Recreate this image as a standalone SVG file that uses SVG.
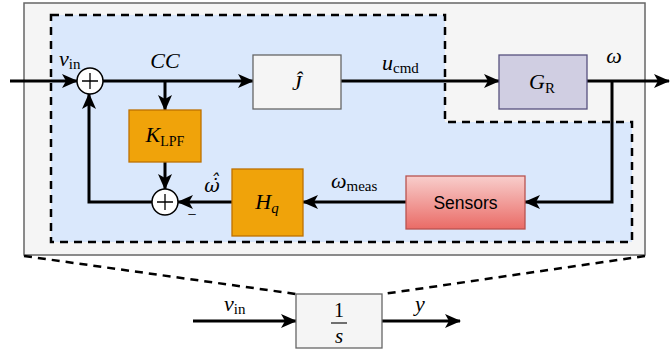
<svg xmlns="http://www.w3.org/2000/svg" width="670" height="354" viewBox="0 0 670 354">
<defs>
<marker id="arr" markerUnits="userSpaceOnUse" viewBox="0 0 16 14" refX="15" refY="7" markerWidth="16" markerHeight="14" orient="auto">
<path d="M0,0 L16,7 L0,14 L4,7 Z" fill="#000"/>
</marker>
<linearGradient id="sensGrad" x1="0" y1="0" x2="0" y2="1">
<stop offset="0" stop-color="#f8cecc"/>
<stop offset="1" stop-color="#ea6b66"/>
</linearGradient>
</defs>
<style>
.conn{fill:none;stroke:#000;stroke-width:3;}
.m{font-family:"Liberation Serif","DejaVu Serif",serif;font-style:italic;fill:#000;}
.r{font-family:"Liberation Serif","DejaVu Serif",serif;font-style:normal;fill:#000;}
.dash{fill:none;stroke:#000;stroke-width:2.5;stroke-dasharray:8 6;}
.sum{fill:#fff;stroke:#000;stroke-width:1.5;}
</style>
<g id="background">
<rect x="24" y="3" width="621" height="252" fill="#f5f5f5" stroke="#666" stroke-width="1.5"/>
<path d="M51,15 L445,15 L445,122 L632,122 L632,242 L51,242 Z" fill="#dae8fc" stroke="none"/>
<path class="dash" d="M51,15 L445,15 L445,122 L632,122 L632,242 L51,242 Z"/>
<path class="dash" d="M24,256 L296,294 M645,256 L383,294"/>
</g>
<g id="connectors">
<path class="conn" d="M10,81 L77,81" marker-end="url(#arr)"/>
<path class="conn" d="M103,81 L253,81" marker-end="url(#arr)"/>
<path class="conn" d="M165,81 L165,110" marker-end="url(#arr)"/>
<path class="conn" d="M341,81 L499,81" marker-end="url(#arr)"/>
<path class="conn" d="M587,81 L669,81" marker-end="url(#arr)"/>
<path class="conn" d="M612,81 L612,202 L525,202" marker-end="url(#arr)"/>
<path class="conn" d="M406,202 L303,202" marker-end="url(#arr)"/>
<path class="conn" d="M232,202 L178,202" marker-end="url(#arr)"/>
<path class="conn" d="M165,162 L165,189" marker-end="url(#arr)"/>
<path class="conn" d="M152,202 L89,202 L89,94" marker-end="url(#arr)"/>
<path class="conn" d="M193,321 L296,321" marker-end="url(#arr)"/>
<path class="conn" d="M382,321 L460,321" marker-end="url(#arr)"/>
</g>
<g id="sum1">
<circle class="sum" cx="90" cy="81" r="13"/>
<path d="M82,81 L98,81 M90,73 L90,89" stroke="#000" stroke-width="1.3"/>
</g>
<g id="sum2">
<circle class="sum" cx="165" cy="202" r="13"/>
<path d="M157,202 L173,202 M165,194 L165,210" stroke="#000" stroke-width="1.3"/>
<text class="r" x="192" y="220" font-size="16" text-anchor="middle">−</text>
</g>
<g id="J">
<rect x="253" y="55" width="88" height="54" fill="#f5f5f5" stroke="#666" stroke-width="1.3"/>
<text class="m" x="297" y="90" font-size="22" text-anchor="middle">Ĵ</text>
</g>
<g id="GR">
<rect x="499" y="55" width="88" height="54" fill="#d0cee2" stroke="#56517e" stroke-width="1.3"/>
<text x="542" y="89" text-anchor="middle"><tspan class="m" font-size="22">G</tspan><tspan class="r" font-size="15" dy="4">R</tspan></text>
</g>
<g id="KLPF">
<rect x="129" y="110" width="72" height="52" fill="#f0a30a" stroke="#bd7000" stroke-width="1.3"/>
<text x="165" y="142" text-anchor="middle"><tspan class="m" font-size="22">K</tspan><tspan class="r" font-size="14" dy="4">LPF</tspan></text>
</g>
<g id="Hq">
<rect x="232" y="169" width="71" height="67" fill="#f0a30a" stroke="#bd7000" stroke-width="1.3"/>
<text x="267" y="209" text-anchor="middle"><tspan class="m" font-size="22">H</tspan><tspan class="m" font-size="15" dy="4">q</tspan></text>
</g>
<g id="Sensors">
<rect x="406" y="176" width="119" height="53" fill="url(#sensGrad)" stroke="#b85450" stroke-width="1.3"/>
<text x="465.5" y="209" font-family="'Liberation Sans',Arial,sans-serif" font-size="17.5" text-anchor="middle" fill="#000">Sensors</text>
</g>
<g id="integrator">
<rect x="296" y="294" width="86" height="54" fill="#f5f5f5" stroke="#666" stroke-width="1.3"/>
<text class="r" x="339" y="317" font-size="20" text-anchor="middle">1</text>
<path d="M331,323 L347,323" stroke="#000" stroke-width="1.1"/>
<text class="m" x="339" y="343" font-size="21" text-anchor="middle">s</text>
</g>
<g id="labels">
<text x="59" y="66"><tspan class="m" font-size="22">ν</tspan><tspan class="r" font-size="15" dy="3">in</tspan></text>
<text class="m" x="165" y="68" font-size="22" text-anchor="middle">CC</text>
<text x="382" y="70"><tspan class="m" font-size="22">u</tspan><tspan class="r" font-size="15" dy="3">cmd</tspan></text>
<text class="m" x="614" y="63" font-size="22" text-anchor="middle">ω</text>
<text x="331" y="188"><tspan class="m" font-size="22">ω</tspan><tspan class="r" font-size="15" dy="3">meas</tspan></text>
<text x="212" y="192" font-family="'DejaVu Serif',serif" font-style="italic" font-size="19" text-anchor="middle">ω̇̂</text>
<text x="224" y="311"><tspan class="m" font-size="22">ν</tspan><tspan class="r" font-size="15" dy="3">in</tspan></text>
<text class="m" x="420" y="311" font-size="22" text-anchor="middle">y</text>
</g>
</svg>
